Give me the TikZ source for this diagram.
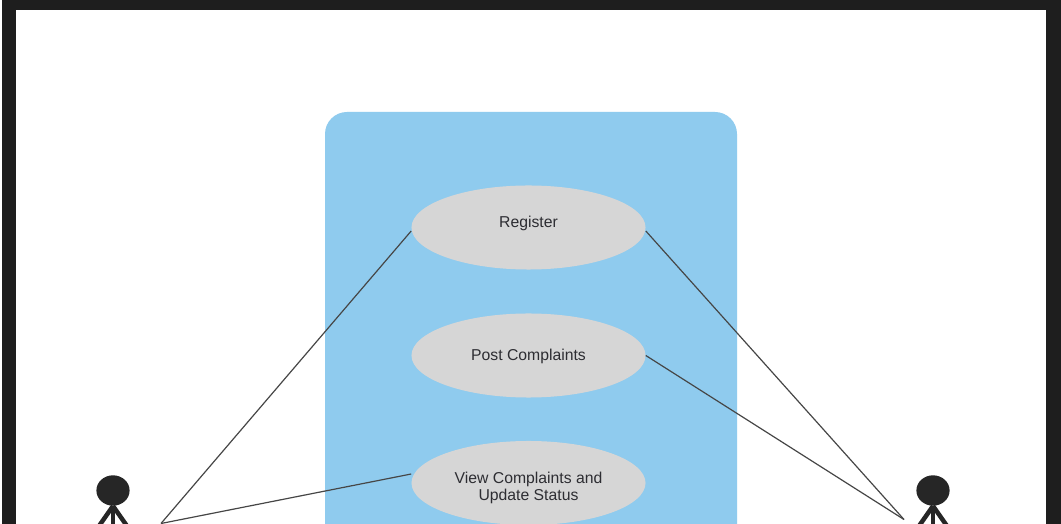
\documentclass[tikz,border=0pt]{standalone}
\usepackage{fontspec}
\setmainfont{Liberation Sans}
\usetikzlibrary{positioning,calc,shapes.geometric}
\definecolor{FrameBlack}{RGB}{30,30,30}
\definecolor{SystemBlue}{RGB}{143,203,238}
\definecolor{CaseGrey}{RGB}{214,214,214}
\definecolor{ActorBlack}{RGB}{38,38,38}
\definecolor{LinkGrey}{RGB}{70,70,70}
\definecolor{TextBlack}{RGB}{45,45,50}
\tikzset{
  usecase/.style={ellipse, fill=CaseGrey, minimum width=5.85cm, minimum height=2.1cm, inner sep=0pt, align=center, text=TextBlack, font=\fontsize{11.2}{11.6}\selectfont},
  link/.style={draw=LinkGrey, line width=0.85pt},
  limb/.style={draw=ActorBlack, line width=3.2pt},
  head/.style={ellipse, fill=ActorBlack, minimum width=0.83cm, minimum height=0.76cm, inner sep=0pt}
}
\begin{document}
\begin{tikzpicture}[x=0.025cm, y=-0.025cm]
    \useasboundingbox (0,0) rectangle (1061,524);
    \clip (0,0) rectangle (1061,524);
    \fill[white] (0,0) rectangle (1061,524);
    \fill[FrameBlack] (2,0) rectangle (1061,524);
    \fill[white] (16,10) rectangle (1046,530);
    \fill[SystemBlue, rounded corners=0.55cm] (325,112) rectangle (737,600);

    \node[usecase] (register) at (528.5,227.5) {\smash{Register}};
    \node[usecase] (post) at (528.5,355.5) {\smash{\raisebox{-3.9pt}{Post Complaints}}};
    \node[usecase] (view) at (528.5,483) {\smash{\raisebox{-0.7pt}{\begin{tabular}[t]{@{}c@{}}View Complaints and\\Update Status\end{tabular}}}};

    \node[head] (leftactor) at (113,490.5) {};
    \node[head] (rightactor) at (933,490.5) {};
    \coordinate (leftneck) at (113,506);
    \coordinate (rightneck) at (933,506);
    \coordinate (lefthand) at (161,523.5);
    \coordinate (righthand) at (904,519.5);

    \draw[limb] (leftactor) -- (leftneck) -- (99,526);
    \draw[limb] (leftneck) -- (127,526);
    \draw[limb] (leftneck) -- (113,530);
    \draw[limb] (rightactor) -- (rightneck) -- (919,526);
    \draw[limb] (rightneck) -- (947,526);
    \draw[limb] (rightneck) -- (933,530);

    \draw[link] (lefthand) -- (register.west |- 0,231);
    \draw[link] (lefthand) -- (view.west |- 0,474);
    \draw[link] (righthand) -- (register.east |- 0,231);
    \draw[link] (righthand) -- (post.east);
  \end{tikzpicture}
\end{document}
